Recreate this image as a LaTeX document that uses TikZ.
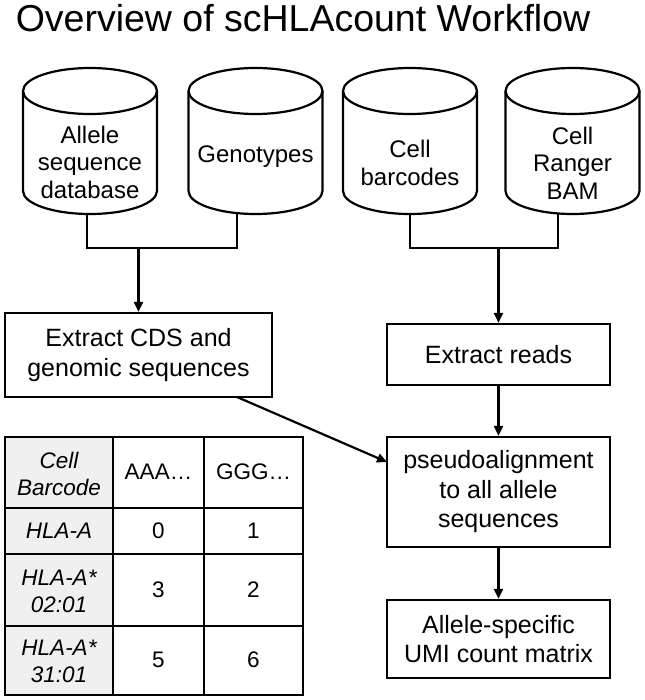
\documentclass[tikz,border=0pt]{standalone}
\usepackage{fontspec}
\setmainfont{Liberation Sans}
\usetikzlibrary{arrows.meta}
\newcommand\mycyl[1]{%
  \draw[fill=white] (#1-67,91) -- (#1-67,191) arc(180:0:67 and 23) -- (#1+67,91) arc(0:-180:67 and 23) -- cycle;
  \draw (#1-67,91) arc(180:0:67 and 23);}
\begin{document}
\begin{tikzpicture}[x=1pt,y=-1pt,line width=2.2pt,
  cyltxt/.style={font=\fontsize{24}{27.5}\selectfont,align=center,inner sep=0pt},
  box/.style={draw,font=\fontsize{25}{29.5}\selectfont,align=center,inner sep=0pt},
  tab/.style={font=\fontsize{22.5}{27}\selectfont,align=center,inner sep=0pt},
  tabit/.style={tab,font=\fontsize{22.5}{27}\selectfont\itshape},
  arr/.style={-{Triangle[length=10pt,width=9pt]}}]
\useasboundingbox (0,0) rectangle (644,700);
% title
\node[font=\fontsize{37.5}{44}\selectfont,anchor=base,inner sep=0pt] (title) at (303,32) {Overview of scHLAcount Workflow};
% cylinders
\mycyl{90}
\mycyl{255.5}
\mycyl{410}
\mycyl{572.5}
\node[cyltxt] (allele) at (90,162) {Allele\\sequence\\database};
\node[cyltxt] (geno) at (255.5,157) {Genotypes};
\node[cyltxt] (barc) at (410,163) {Cell\\barcodes};
\node[cyltxt] (bam) at (572.5,163) {Cell\\Ranger\\BAM};
\coordinate (c1b) at (87,214);
\coordinate (c2b) at (237,213.5);
\coordinate (c3b) at (410,214);
\coordinate (c4b) at (558,213.5);
\coordinate (j1) at (138.5,248);
\coordinate (j2) at (498.5,248);
% boxes
\node[box,minimum width=267pt,minimum height=84pt] (cds) at (138.5,355) {Extract CDS and\\genomic sequences};
\node[box,minimum width=223pt,minimum height=61pt] (reads) at (498.5,354.5) {Extract reads};
\node[box,minimum width=223pt,minimum height=110pt] (pseudo) at (498.5,492) {pseudoalignment\\to all allele\\sequences};
\node[box,minimum width=223pt,minimum height=78pt] (umi) at (498.5,639) {Allele-specific\\UMI count matrix};
% connectors
\draw (c1b) |- (j1) -| (c2b);
\draw[arr] (j1) -- (cds.north);
\draw (c3b) |- (j2) -| (c4b);
\draw[arr] (j2) -- (reads.north);
\coordinate (d0) at (237,397);
\coordinate (d1) at (387,462);
\draw[arr] (d0) -- (d1);
\draw[arr] (reads.south) -- (pseudo.north);
\draw[arr] (pseudo.south) -- (umi.north);
% table
\fill[black!6] (5,437) rectangle (113,695);
\draw[line width=2pt] (5,437) rectangle (303,695);
\draw[line width=2pt] (113,437) -- (113,695) (204,437) -- (204,695)
  (5,508) -- (303,508) (5,554) -- (303,554) (5,626) -- (303,626);
\node[tabit] (h0) at (59,474) {Cell\\Barcode};
\node[tab] (h1) at (158.5,472) {AAA…};
\node[tab] (h2) at (253.5,472) {GGG…};
\node[tabit] (r1) at (59,531) {HLA-A};
\node[tab] (r1a) at (158.5,531) {0};
\node[tab] (r1b) at (253.5,531) {1};
\node[tabit] (r2) at (59,591) {HLA-A*\\02:01};
\node[tab] (r2a) at (158.5,590) {3};
\node[tab] (r2b) at (253.5,590) {2};
\node[tabit] (r3) at (59,661) {HLA-A*\\31:01};
\node[tab] (r3a) at (158.5,660) {5};
\node[tab] (r3b) at (253.5,660) {6};
\end{tikzpicture}
\end{document}
